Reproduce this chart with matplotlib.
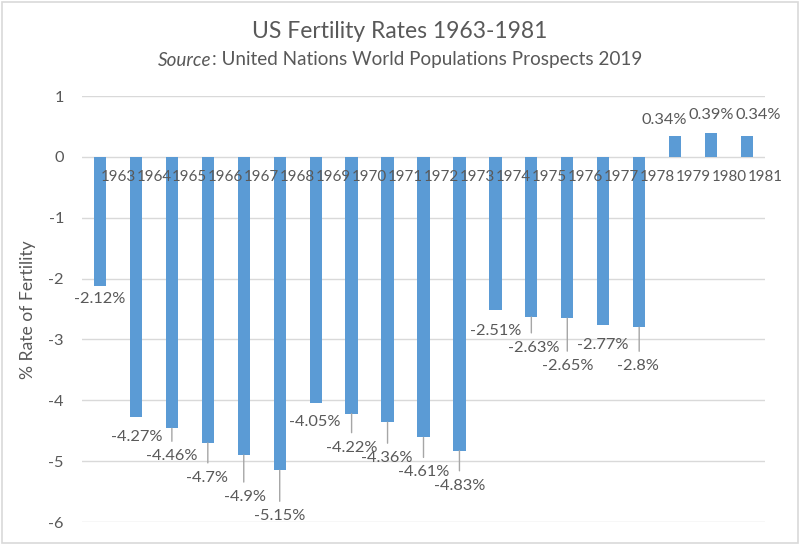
import matplotlib
matplotlib.use("Agg")
import matplotlib.pyplot as plt
from matplotlib.patches import Rectangle

years = ["1963", "1964", "1965", "1966", "1967", "1968", "1969", "1970", "1971", "1972",
         "1973", "1974", "1975", "1976", "1977", "1978", "1979", "1980", "1981"]
rates = [-2.12, -4.27, -4.46, -4.70, -4.90, -5.15, -4.05, -4.22, -4.36, -4.61,
         -4.83, -2.51, -2.63, -2.65, -2.77, -2.80, 0.34, 0.39, 0.34]
value_labels = ["-2.12%", "-4.27%", "-4.46%", "-4.7%", "-4.9%", "-5.15%", "-4.05%", "-4.22%",
                "-4.36%", "-4.61%", "-4.83%", "-2.51%", "-2.63%", "-2.65%", "-2.77%", "-2.8%",
                "0.34%", "0.39%", "0.34%"]

# label placement (pixel offsets from bar end: dx right, dy down) and leader flags
lab_dx = [0, 1, 0, -1, 1, 0, -1, 0, -1, 0, 0, 0, 2, 0, 0, -1, -11, 0, 11]
lab_dy = [13, 20, 28, 35, 42, 46, 19, 34, 36, 35, 35, 21, 31, 48, 20, 39, -16, -18, -21]
leader = [0, 0, 1, 1, 1, 1, 0, 1, 1, 1, 1, 0, 1, 1, 0, 1, 0, 0, 0]

FONT = ["Lato", "DejaVu Sans"]
plt.rcParams["font.family"] = FONT
TXT = "#595959"
BAR = "#5B9BD5"
GRID = "#D9D9D9"
FS = 11.8
FS_CAT = 10.9

fig = plt.figure(figsize=(8.0, 5.45), dpi=100)
fig.patches.append(Rectangle((0.002, 0.003), 0.995, 0.994, transform=fig.transFigure,
                             facecolor="none", edgecolor=GRID, lw=1.2))

ax = fig.add_axes([82 / 800, 1 - 522 / 545, 683 / 800, 426 / 545])
x = list(range(len(years)))
ax.bar(x, rates, width=0.34, color=BAR, zorder=3)

ax.set_xlim(-0.5, len(years) - 0.5)
ax.set_ylim(-6, 1)
ax.set_yticks(range(-6, 2))
ax.set_yticklabels([str(v) for v in range(-6, 2)])
ax.grid(axis="y", color=GRID, lw=1, zorder=0)
ax.set_axisbelow(True)
for s in ["top", "right", "left", "bottom"]:
    ax.spines[s].set_visible(False)
ax.set_xticks([])
ax.tick_params(axis="y", length=0, pad=13, labelsize=FS, labelcolor=TXT)

# category labels, drawn over the bars just below the zero line
for i, yr in enumerate(years):
    ax.annotate(yr, xy=(i + 0.5, 0), xytext=(0, -20), textcoords="offset pixels",
                ha="center", va="center", fontsize=FS_CAT, color=TXT, zorder=6)

ax.set_ylabel("% Rate of Fertility", fontsize=12.6, color=TXT)
ax.yaxis.set_label_coords((36 - 82) / 683, (522 - 310) / 426)

for i, v in enumerate(rates):
    ax.annotate(value_labels[i], xy=(i, v), xytext=(lab_dx[i], -lab_dy[i]),
                textcoords="offset pixels", ha="center", va="center",
                fontsize=FS, color=TXT, zorder=5)
    if leader[i]:
        ax.annotate("", xy=(i, v), xytext=(0, -(lab_dy[i] - 15)),
                    textcoords="offset pixels",
                    arrowprops=dict(arrowstyle="-", color="#A6A6A6", lw=1,
                                    shrinkA=0, shrinkB=0))

fig.text(0.5, 1 - 32 / 545, "US Fertility Rates 1963-1981", ha="center", va="center",
         fontsize=16.5, color=TXT)
# subtitle with italic "Source"
t1 = fig.text(0.5, 1 - 60 / 545, "Source", ha="left", va="center", fontsize=13.6,
              color=TXT, style="italic")
t2 = fig.text(0.5, 1 - 60 / 545, ": United Nations World Populations Prospects 2019",
              ha="left", va="center", fontsize=13.6, color=TXT)
fig.canvas.draw()
r = fig.canvas.get_renderer()
w1 = t1.get_window_extent(r).width
w2 = t2.get_window_extent(r).width
x0 = 400 - (w1 + w2) / 2
t1.set_x(x0 / 800)
t2.set_x((x0 + w1) / 800)

fig.savefig("out.png", dpi=100)
